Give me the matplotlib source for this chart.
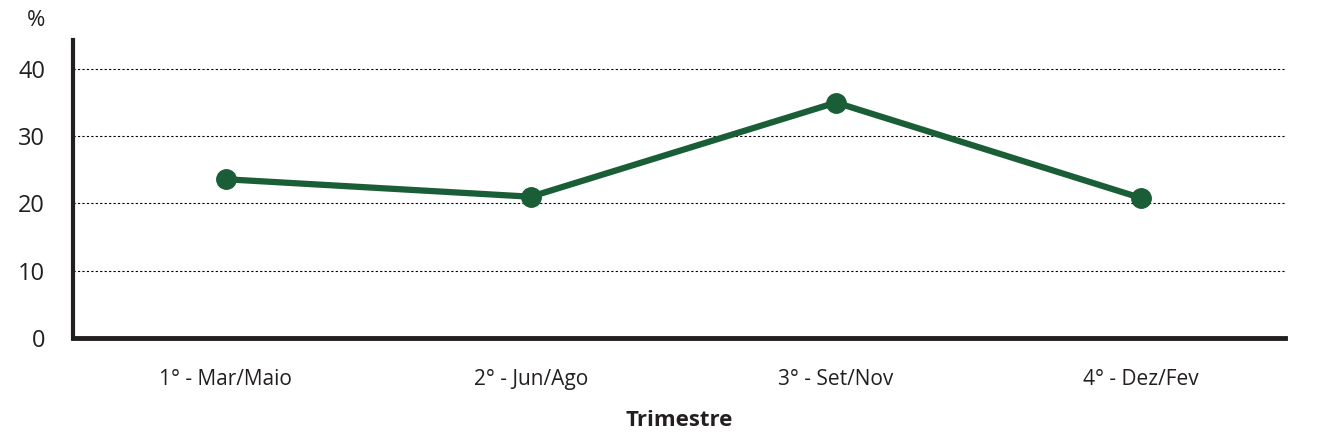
import matplotlib
matplotlib.use('Agg')
import matplotlib.pyplot as plt

# data
trimestres = ['1° - Mar/Maio', '2° - Jun/Ago', '3° - Set/Nov', '4° - Dez/Fev']
percent = [23.6, 21.0, 35.0, 20.8]
yticks = [0, 10, 20, 30, 40]

green = '#1a5e38'
dark = '#231f20'

plt.rcParams['font.family'] = ['Open Sans', 'DejaVu Sans']

fig = plt.figure(figsize=(13.19, 4.41), dpi=100)
ax = fig.add_axes([0.0553, 0.2336, 0.9187, 0.6757])

x = list(range(len(trimestres)))
ax.plot(x, percent, color=green, lw=4.5, marker='o', ms=14, zorder=3)

ax.set_xlim(-0.5, 3.47)
ax.set_ylim(0, 44.3)
ax.set_yticks(yticks)
ax.set_xticks(x)
ax.set_xticklabels(trimestres, fontsize=15, color=dark)
ax.tick_params(axis='y', labelsize=17, colors=dark, length=0, pad=20)
ax.tick_params(axis='x', length=0, pad=22)

ax.grid(axis='y', linestyle=(0, (2, 2)), color='black', lw=0.8)
ax.set_axisbelow(True)
for s in ['top', 'right']:
    ax.spines[s].set_visible(False)
ax.spines['left'].set_linewidth(3)
ax.spines['bottom'].set_linewidth(3.5)
ax.spines['left'].set_color(dark)
ax.spines['bottom'].set_color(dark)

ax.set_xlabel('Trimestre', fontsize=16, fontweight='bold', color=dark, labelpad=15)
fig.text(36 / 1319, 1 - 20 / 441, '%', fontsize=16, color=dark, ha='center', va='center')

fig.savefig('out.png', dpi=100)
